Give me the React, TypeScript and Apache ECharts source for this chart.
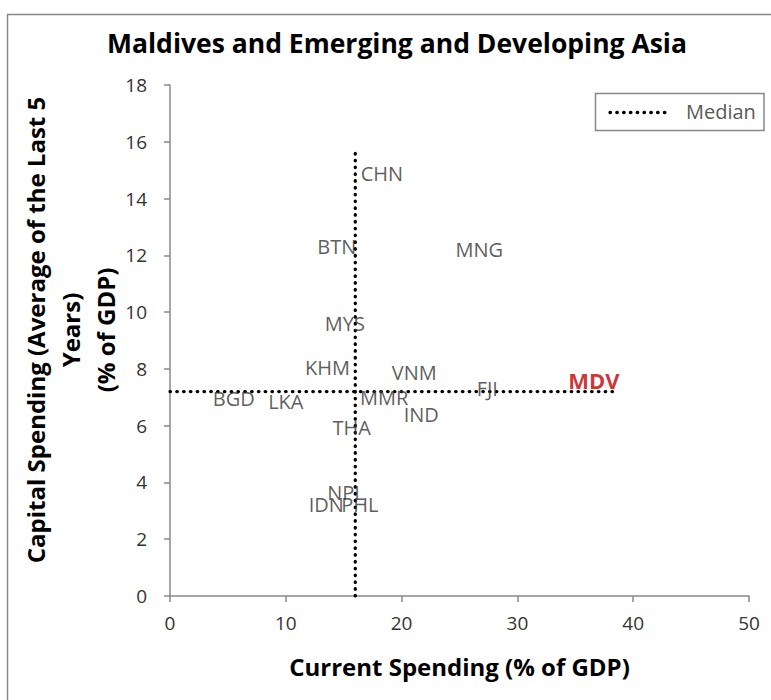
import React, { useEffect, useRef } from "react";
import * as echarts from "echarts";

const countries = ["CHN", "BTN", "MNG", "MYS", "KHM", "VNM", "FJI", "BGD", "LKA", "MMR", "IND", "THA", "NPL", "IDN", "PHL"];
const currentSpending = [18.3, 14.4, 26.7, 15.1, 13.6, 21.1, 27.4, 5.5, 10.0, 18.5, 21.7, 15.7, 15.2, 13.5, 16.4];
const capitalSpending = [14.9, 12.3, 12.2, 9.6, 8.05, 7.86, 7.31, 6.95, 6.84, 7.0, 6.4, 5.94, 3.64, 3.24, 3.23];
const mdvName = "MDV";
const mdvCurrent = 36.6;
const mdvCapital = 7.62;
const medianCurrent = 16.0;
const medianCapital = 7.2;
const medianCapitalTop = 15.6;
const medianCurrentRight = 38.3;

const FONT = "'Open Sans', 'Noto Sans', sans-serif";
const GRAY = "#898989";

export default function App() {
  const ref = useRef<HTMLDivElement>(null);
  useEffect(() => {
    document.body.style.margin = "0";
    const chart = echarts.init(ref.current!, null, { renderer: "svg" });
    const pts = countries.map((c, i) => [currentSpending[i], capitalSpending[i], c]);
    const dotted = { type: [0.5, 6.3] as any, cap: "round", width: 3.3, color: "#000" };
    chart.setOption({
      animation: false,
      backgroundColor: "#fff",
      textStyle: { fontFamily: FONT },
      title: {
        text: "Maldives and Emerging and Developing Asia",
        left: 392,
        textAlign: "center",
        top: 24,
        textStyle: { fontFamily: FONT, fontWeight: "bold", fontSize: 26.5, color: "#000" },
      },
      graphic: [
        {
          type: "rect",
          shape: { x: 7.5, y: 14.5, width: 800, height: 800 },
          style: { fill: "none", stroke: GRAY, lineWidth: 1.5 },
          silent: true,
        },
        {
          type: "text",
          x: 70,
          y: 330,
          rotation: Math.PI / 2,
          style: {
            text: "Capital Spending (Average of the Last 5\nYears)\n(% of GDP)",
            fontFamily: FONT,
            fontWeight: "bold",
            fontSize: 24,
            lineHeight: 35,
            fill: "#000",
            align: "center",
            verticalAlign: "middle",
          },
          silent: true,
        },
        {
          type: "rect",
          shape: { x: 595.5, y: 93.5, width: 168.5, height: 37 },
          style: { fill: "#fff", stroke: GRAY, lineWidth: 1.5 },
          silent: true,
          z: 10,
        },
        {
          type: "line",
          shape: { x1: 610, y1: 112.5, x2: 667, y2: 112.5 },
          style: { stroke: "#000", lineWidth: 3.3, lineDash: [0.5, 6.3], lineCap: "round" },
          silent: true,
          z: 11,
        },
        {
          type: "text",
          x: 686,
          y: 111,
          style: {
            text: "Median",
            fontFamily: FONT,
            fontSize: 20,
            fill: "#595959",
            align: "left",
            verticalAlign: "middle",
          },
          silent: true,
          z: 11,
        },
      ],
      grid: { left: 170, right: 22, top: 85, bottom: 104, containLabel: false, outerBoundsMode: "none" },
      xAxis: {
        type: "value",
        min: 0,
        max: 50,
        interval: 10,
        name: "Current Spending (% of GDP)",
        nameLocation: "middle",
        nameGap: 58,
        nameTextStyle: { fontFamily: FONT, fontWeight: "bold", fontSize: 24, color: "#000" },
        axisLine: { lineStyle: { color: GRAY, width: 1.5 } },
        axisTick: { show: true, inside: false, length: 6, lineStyle: { color: GRAY, width: 1.5 } },
        axisLabel: { fontFamily: FONT, fontSize: 19, color: "#333", margin: 17 },
        splitLine: { show: false },
      },
      yAxis: {
        type: "value",
        min: 0,
        max: 18,
        interval: 2,
        axisLine: { show: true, lineStyle: { color: GRAY, width: 1.5 } },
        axisTick: { show: true, inside: false, length: 6, lineStyle: { color: GRAY, width: 1.5 } },
        axisLabel: { fontFamily: FONT, fontSize: 19, color: "#333", margin: 23 },
        splitLine: { show: false },
      },
      series: [
        {
          name: "Median",
          type: "line",
          symbol: "none",
          data: [[medianCurrent, 0], [medianCurrent, medianCapitalTop]],
          lineStyle: dotted,
          itemStyle: { color: "#000" },
          z: 1,
        },
        {
          name: "Median",
          type: "line",
          symbol: "none",
          data: [[0, medianCapital], [medianCurrentRight, medianCapital]],
          lineStyle: dotted,
          itemStyle: { color: "#000" },
          z: 1,
        },
        {
          name: "Countries",
          type: "scatter",
          symbolSize: 0,
          data: pts,
          label: {
            show: true,
            position: "inside",
            formatter: (p: any) => p.data[2],
            fontFamily: FONT,
            fontSize: 20,
            color: "#333",
          },
          z: 3,
        },
        {
          name: "MDV",
          type: "scatter",
          symbolSize: 0,
          data: [[mdvCurrent, mdvCapital, mdvName]],
          label: {
            show: true,
            position: "inside",
            formatter: (p: any) => p.data[2],
            fontFamily: FONT,
            fontSize: 22,
            fontWeight: "bold",
            color: "#C00000",
          },
          z: 3,
        },
      ],
    });
    return () => chart.dispose();
  }, []);
  return <div ref={ref} style={{ position: "fixed", left: 0, top: 0, width: 771, height: 700 }} />;
}
